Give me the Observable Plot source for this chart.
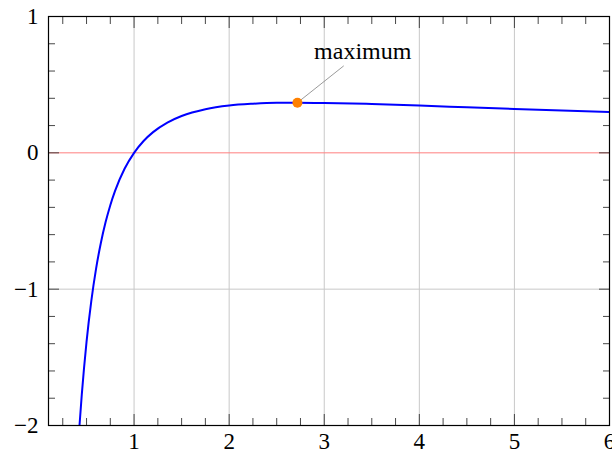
<!DOCTYPE html>
<html><head><meta charset="utf-8">
<script src="https://cdn.jsdelivr.net/npm/d3@7"></script>
<script src="https://cdn.jsdelivr.net/npm/@observablehq/plot@0.6"></script>
<style>body{margin:0;background:#fff}</style>
</head><body><div id="chart"></div>
<script>
// Curve values
const curveX = [0.426, 0.45, 0.5, 0.55, 0.6, 0.65, 0.7, 0.75, 0.8, 0.9, 1.0, 1.1, 1.2, 1.35, 1.5, 1.75, 2.0, 2.25, 2.5, 2.72, 3.0, 3.5, 4.0, 4.5, 5.0, 5.5, 6.0];
const curveY = [-2.0, -1.774, -1.386, -1.087, -0.851, -0.663, -0.510, -0.384, -0.279, -0.117, 0.0, 0.087, 0.152, 0.222, 0.270, 0.320, 0.347, 0.360, 0.367, 0.368, 0.366, 0.358, 0.347, 0.334, 0.322, 0.310, 0.299];
const xMajorTicks = [1, 2, 3, 4, 5, 6];
const yMajorTicks = [-2, -1, 0, 1];
const xMinorTicks = [0.25, 0.5, 0.75, 1.25, 1.5, 1.75, 2.25, 2.5, 2.75, 3.25, 3.5, 3.75, 4.25, 4.5, 4.75, 5.25, 5.5, 5.75];
const yMinorTicks = [-1.8, -1.6, -1.4, -1.2, -0.8, -0.6, -0.4, -0.2, 0.2, 0.4, 0.6, 0.8];
const xGrid = [1, 2, 3, 4, 5];
const yGrid = [-1];
const zeroLine = [0];
const maxX = [2.718];
const maxY = [0.368];
const labelText = ["maximum"];
const labelX = [3.405];
const labelY = [0.741];
const pinEndX = [3.205];
const pinEndY = [0.638];

const curve = curveX.map((x, i) => ({x, y: curveY[i]}));
const maxPt = maxX.map((x, i) => ({x, y: maxY[i], lx: labelX[i], ly: labelY[i], px: pinEndX[i], py: pinEndY[i], text: labelText[i]}));

const tickStroke = "#333";
const chart = Plot.plot({
  width: 612,
  height: 453,
  marginLeft: 48,
  marginRight: 3,
  marginTop: 16,
  marginBottom: 28,
  style: {fontFamily: "'Liberation Serif', 'DejaVu Serif', serif", fontSize: "23px", background: "#fff", color: "#000"},
  x: {domain: [0.1, 6]},
  y: {domain: [-2, 1]},
  marks: [
    Plot.ruleX(xGrid, {stroke: "#c8c8c8", strokeWidth: 1}),
    Plot.ruleY(yGrid, {stroke: "#c8c8c8", strokeWidth: 1}),
    Plot.ruleY(zeroLine, {stroke: "#ff7f7f", strokeWidth: 1}),
    Plot.line(curve, {x: "x", y: "y", stroke: "#0000ff", strokeWidth: 2, curve: "monotone-x", clip: true}),
    Plot.link(maxPt, {x1: "x", y1: "y", x2: "px", y2: "py", stroke: "#808080", strokeWidth: 0.8}),
    Plot.dot(maxPt, {x: "x", y: "y", r: 5, fill: "#ff8000", stroke: "none"}),
    Plot.text(maxPt, {x: "lx", y: "ly", text: "text", fontSize: 24, textAnchor: "middle", lineAnchor: "middle", fill: "#000"}),
    // minor ticks
    Plot.axisX(xMinorTicks, {anchor: "bottom", tickSize: -7, text: null, label: null, stroke: tickStroke, strokeWidth: 0.9}),
    Plot.axisX(xMinorTicks, {anchor: "top", tickSize: -7, text: null, label: null, stroke: tickStroke, strokeWidth: 0.9}),
    Plot.axisY(yMinorTicks, {anchor: "left", tickSize: -7, text: null, label: null, stroke: tickStroke, strokeWidth: 0.9}),
    Plot.axisY(yMinorTicks, {anchor: "right", tickSize: -7, text: null, label: null, stroke: tickStroke, strokeWidth: 0.9}),
    // major ticks
    Plot.axisX(xMajorTicks, {anchor: "bottom", tickSize: -11, text: null, label: null, stroke: tickStroke, strokeWidth: 0.9}),
    Plot.axisX(xMajorTicks, {anchor: "top", tickSize: -11, text: null, label: null, stroke: tickStroke, strokeWidth: 0.9}),
    Plot.axisY(yMajorTicks, {anchor: "left", tickSize: -11, text: null, label: null, stroke: tickStroke, strokeWidth: 0.9}),
    Plot.axisY(yMajorTicks, {anchor: "right", tickSize: -11, text: null, label: null, stroke: tickStroke, strokeWidth: 0.9}),
    // labels
    Plot.axisX(xMajorTicks, {anchor: "bottom", tickSize: 0, tickPadding: 7, label: null, fontSize: 23, fill: "#000", tickFormat: d3.format("d")}),
    Plot.axisY(yMajorTicks, {anchor: "left", tickSize: 0, tickPadding: 10, label: null, fontSize: 23, fill: "#000", tickFormat: d3.format("d")}),
    Plot.frame({stroke: "#000", strokeWidth: 1.2})
  ]
});
document.getElementById("chart").appendChild(chart);
</script>
</body></html>
